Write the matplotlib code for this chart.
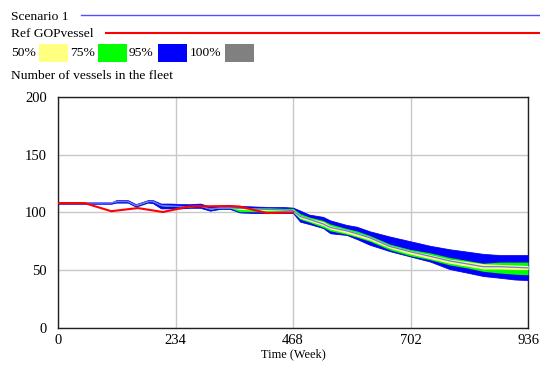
import matplotlib
matplotlib.use("Agg")
import matplotlib.pyplot as plt
from matplotlib.patches import Rectangle
from matplotlib.lines import Line2D

plt.rcParams['font.family'] = ['Liberation Serif', 'DejaVu Serif']

# ---- data ----
ref_t = [0, 53, 106, 159, 209, 239, 260, 342, 362, 416, 468]
ref_v = [108, 108, 101, 103.7, 100.3, 103, 105, 105.5, 105, 99.4, 100]

t = [0, 52, 106, 116, 139, 155, 179, 189, 205, 225, 245, 263, 283, 303, 322, 342,
     362, 390, 420, 450, 468, 482, 500, 528, 542, 575, 595, 621, 661, 701,
     741, 780, 814, 847, 880, 910, 936]

scenario = [108, 108, 108, 109.5, 109.5, 106, 109.5, 109.5, 106, 105.5, 105, 105, 105.5, 103, 104, 104,
            103.5, 103, 102.5, 102, 101.5, 96.5, 94, 90, 87, 84, 81.5, 78, 70.5, 66,
            62, 58, 55.5, 53, 53, 52.5, 52]

p95_lo = [107.5, 107.5, 107.5, 108.5, 108.5, 105, 108.5, 108, 103.5, 103.5, 103.5, 104, 104, 101.5, 103, 103,
          100, 99.5, 99.5, 99.5, 99.5, 92, 90, 86.5, 82, 80.5, 77, 72, 66.5, 62,
          57.5, 51, 48, 45, 43.5, 42, 41.5]
p95_hi = [108.5, 108.5, 108.5, 110.5, 110.5, 107, 110.5, 110.5, 107.5, 107.5, 107, 107, 107.5, 105, 105.5, 105.5,
          105.5, 105, 104.5, 104.5, 104, 101.5, 98, 96, 93, 89, 87.5, 83.5, 79, 75,
          71, 68, 66, 64, 63, 63, 63]

p75_lo = [108, 108, 108, 109.2, 109.2, 105.7, 109.2, 109.2, 105.7, 105.2, 104.7, 104.7, 105.2, 102.7, 103.7, 103.7,
          100.5, 100.5, 100.5, 100.5, 100, 94, 91.5, 87, 84, 81, 78.5, 75, 67.5, 62.5,
          59, 54.5, 52, 49, 47.5, 46.5, 46]
p75_hi = [108, 108, 108, 109.8, 109.8, 106.3, 109.8, 109.8, 106.3, 105.8, 105.3, 105.3, 105.8, 103.3, 104.3, 104.3,
          104.5, 104, 104, 103.5, 103.5, 99, 96, 93, 90, 86, 84, 80, 72.5, 68,
          65, 61, 58.5, 56, 57, 57, 57]

p50_lo = [108, 108, 108, 109.4, 109.4, 105.9, 109.4, 109.4, 105.9, 105.4, 104.9, 104.9, 105.4, 102.9, 103.9, 103.9,
          102.5, 102, 101.5, 101.5, 100.5, 95, 92.5, 88.5, 85.5, 82, 79.5, 76, 69, 64,
          60, 56, 53.5, 51, 51, 50.5, 50.5]
p50_hi = [108, 108, 108, 109.6, 109.6, 106.1, 109.6, 109.6, 106.1, 105.6, 105.1, 105.1, 105.6, 103.1, 104.1, 104.1,
          103.5, 103, 102.5, 102.5, 102.5, 97.5, 95, 92, 88.5, 85, 82.5, 79, 71.5, 67,
          63.5, 59.5, 57.5, 55.5, 55, 54.5, 54]

x_ticks = [0, 234, 468, 702, 936]
y_ticks = [0, 50, 100, 150, 200]

legend_pcts = ['50%', '75%', '95%', '100%']
band_colors = ['#ffff80', '#00ff00', '#0000ff', '#808080']

# ---- figure ----
W, H = 540, 367
fig = plt.figure(figsize=(W / 100, H / 100), dpi=100)
ax = fig.add_axes([58 / W, 1 - 328 / H, 470 / W, 231.3 / H])

fs = 9.7
tick_fs = 10.5
gray_lo = [v - 0.5 for v in p95_lo]
gray_hi = [v + 0.5 for v in p95_hi]
ax.fill_between(t, gray_lo, gray_hi, color='#7070c0', lw=0, zorder=2)
ax.fill_between(t, p95_lo, p95_hi, facecolor=band_colors[2], edgecolor=band_colors[2], lw=0.4, zorder=3)
ax.fill_between(t, p75_lo, p75_hi, color=band_colors[1], lw=0, zorder=4)
ax.fill_between(t, p50_lo, p50_hi, color=band_colors[0], lw=0, zorder=5)
ax.plot(t, scenario, color='#7070ff', lw=0.9, zorder=6)
ax.plot(ref_t, ref_v, color='#ff0000', lw=1.5, zorder=7)

ax.set_xlim(0, 936)
ax.set_ylim(0, 200)
ax.set_xticks(x_ticks)
ax.set_yticks(y_ticks)
ax.set_xticklabels([str(v) for v in x_ticks], fontsize=tick_fs)
ax.set_yticklabels([str(v) for v in y_ticks], fontsize=tick_fs)
ax.tick_params(axis='x', length=0, pad=4)
ax.tick_params(axis='y', length=0, pad=8)
ax.grid(True, color='#c8c8c8', lw=1.0, zorder=1)
ax.set_axisbelow(True)
for s in ax.spines.values():
    s.set_color('#202020')
    s.set_linewidth(1.0)
ax.set_xlabel('Time (Week)', fontsize=8.8, labelpad=1)

# ---- legend / header (figure pixel coordinates) ----
def fx(px):
    return px / W

def fy(py):
    return 1 - py / H

fig.text(fx(11), fy(16.7), 'Scenario 1', fontsize=fs, va='center', ha='left')
fig.add_artist(Line2D([fx(81), fx(540)], [fy(15.3), fy(15.3)], color='#5050ff', lw=1.0))
fig.text(fx(11), fy(34.3), 'Ref GOPvessel', fontsize=fs, va='center', ha='left')
fig.add_artist(Line2D([fx(106), fx(540)], [fy(33.3), fy(33.3)], color='#ff0000', lw=1.5))

text_x = [11, 70, 129, 190]
box_x = [39, 98, 158, 225]
for lab, tx, bx, c in zip(legend_pcts, text_x, box_x, band_colors):
    fig.text(fx(tx), fy(52.7), lab, fontsize=fs, va='center', ha='left')
    fig.add_artist(Rectangle((fx(bx), fy(62)), 28.5 / W, 18 / H, color=c, lw=0,
                             transform=fig.transFigure))

fig.text(fx(11), fy(76.3), 'Number of vessels in the fleet', fontsize=fs, va='center', ha='left')

fig.savefig('out.png', dpi=100)
